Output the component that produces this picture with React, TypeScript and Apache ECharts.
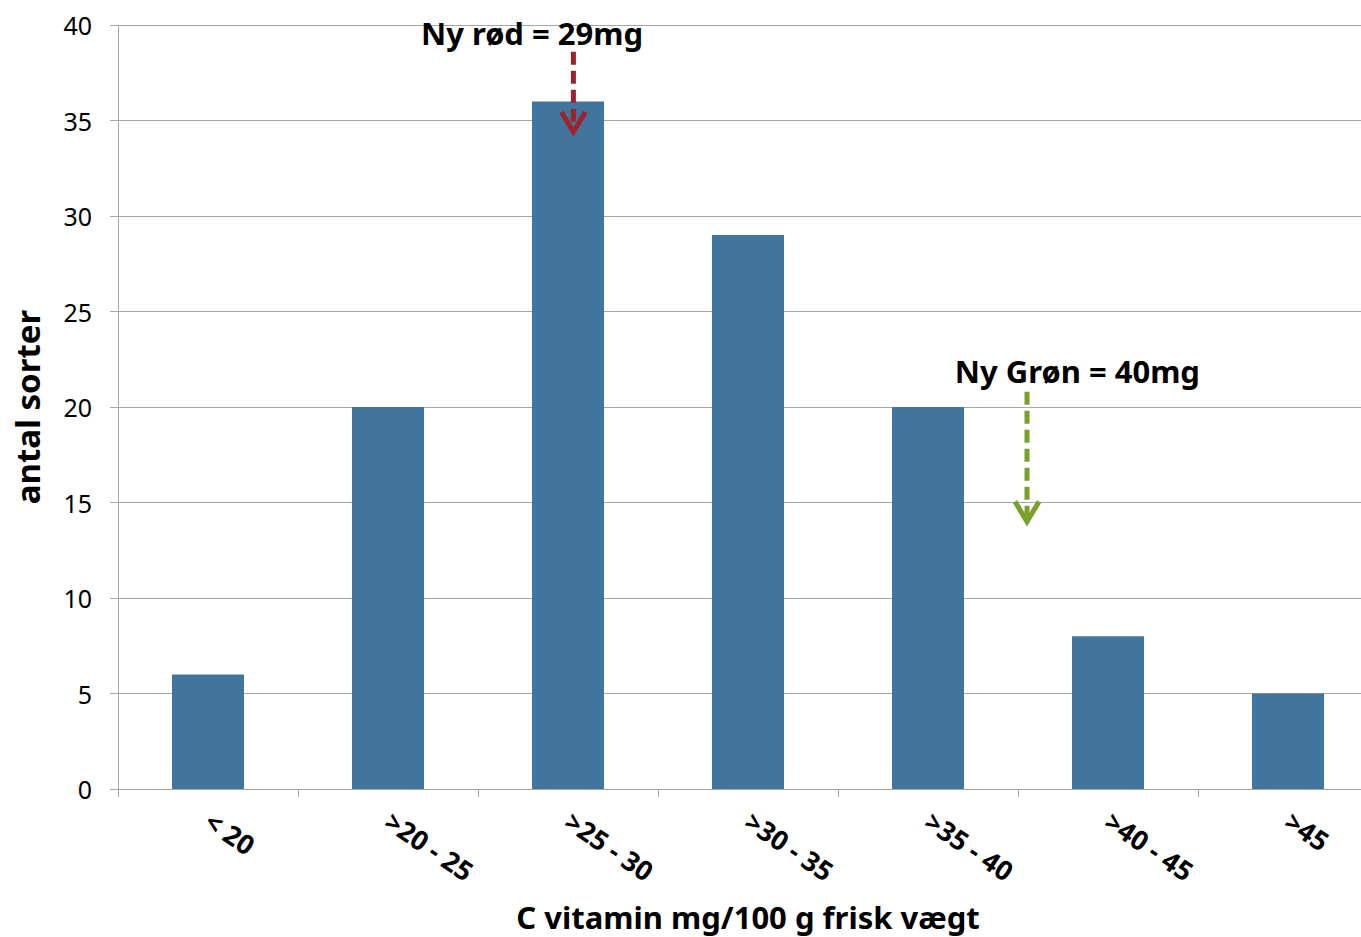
import React, { useEffect, useRef } from "react";
import * as echarts from "echarts";

// Vitamin C content bins and number of varieties in each
const categories = ["< 20", ">20 - 25", ">25 - 30", ">30 - 35", ">35 - 40", ">40 - 45", ">45"];
const counts = [6, 20, 36, 29, 20, 8, 5];

// Arrow annotations (x on a 0..7 band scale across the categories, y in counts)
const noteLabels = ["Ny rød = 29mg", "Ny Grøn = 40mg"];
const noteColors = ["#A0222B", "#78A02A"];
const noteArrowX = [2.53, 5.05];
const noteArrowTop = [38.6, 20.8];
const noteArrowTip = [34.4, 14.0];
const noteLabelX = [2.3, 5.33];
const noteLabelY = [39.6, 21.9];

const FONT = "'Noto Sans', 'DejaVu Sans', sans-serif";
const GRID_COLOR = "#A6A6A6";

export default function App() {
  const ref = useRef<HTMLDivElement>(null);

  useEffect(() => {
    if (!ref.current) return;
    const chart = echarts.init(ref.current, null, { renderer: "svg" });

    const notes = noteLabels.map((_, i) => [
      noteArrowX[i],
      noteArrowTop[i],
      noteArrowTip[i],
      noteLabelX[i],
      noteLabelY[i],
      i,
    ]);

    chart.setOption({
      animation: false,
      backgroundColor: "#ffffff",
      textStyle: { fontFamily: FONT },
      grid: {
        left: 118,
        right: -17,
        top: 25,
        bottom: 148,
        containLabel: false,
        outerBoundsMode: "none",
      },
      xAxis: [
        {
          type: "category",
          data: categories,
          name: "C vitamin mg/100 g frisk vægt",
          nameLocation: "middle",
          nameGap: 112,
          nameTextStyle: { fontSize: 31, fontWeight: "bold", color: "#000", fontFamily: FONT },
          axisLine: { lineStyle: { color: GRID_COLOR, width: 1 } },
          axisTick: { show: true, length: 8, interval: 0, lineStyle: { color: GRID_COLOR } },
          axisLabel: {
            interval: 0,
            rotate: -34,
            margin: 29,
            fontSize: 27,
            fontWeight: "bold",
            color: "#000",
            fontFamily: FONT,
          },
        },
        { type: "value", min: 0, max: 7, show: false },
      ],
      yAxis: {
        type: "value",
        min: 0,
        max: 40,
        interval: 5,
        name: "antal sorter",
        nameLocation: "middle",
        nameGap: 74,
        nameTextStyle: { fontSize: 33, fontWeight: "bold", color: "#000", fontFamily: FONT },
        axisLine: { show: true, lineStyle: { color: GRID_COLOR, width: 1 } },
        axisTick: { show: true, length: 8, lineStyle: { color: GRID_COLOR } },
        axisLabel: { fontSize: 25, color: "#000", margin: 26, fontFamily: FONT },
        splitLine: { lineStyle: { color: GRID_COLOR, width: 1 } },
      },
      series: [
        {
          type: "bar",
          data: counts,
          barWidth: "40%",
          itemStyle: { color: "#41759D" },
        },
        {
          type: "custom",
          xAxisIndex: 1,
          yAxisIndex: 0,
          clip: false,
          silent: true,
          z: 10,
          data: notes,
          renderItem: (_params: any, api: any) => {
            const idx = api.value(5);
            const color = noteColors[idx];
            const top = api.coord([api.value(0), api.value(1)]);
            const tip = api.coord([api.value(0), api.value(2)]);
            const lab = api.coord([api.value(3), api.value(4)]);
            return {
              type: "group",
              children: [
                {
                  type: "line",
                  shape: { x1: top[0], y1: top[1], x2: tip[0], y2: tip[1] - 4 },
                  style: { stroke: color, lineWidth: 5, lineDash: [13, 6] },
                },
                {
                  type: "polyline",
                  shape: {
                    points: [
                      [tip[0] - 12, tip[1] - 20],
                      [tip[0], tip[1]],
                      [tip[0] + 12, tip[1] - 20],
                    ],
                  },
                  style: { stroke: color, lineWidth: 5, fill: "none" },
                },
                {
                  type: "text",
                  x: lab[0],
                  y: lab[1],
                  style: {
                    text: noteLabels[idx],
                    fill: "#000",
                    font: `bold 31px ${FONT}`,
                    align: "center",
                    verticalAlign: "middle",
                  },
                },
              ],
            };
          },
        },
      ],
    });

    return () => chart.dispose();
  }, []);

  return (
    <div
      ref={ref}
      style={{ position: "absolute", left: 0, top: 0, width: 1361, height: 937 }}
    />
  );
}
